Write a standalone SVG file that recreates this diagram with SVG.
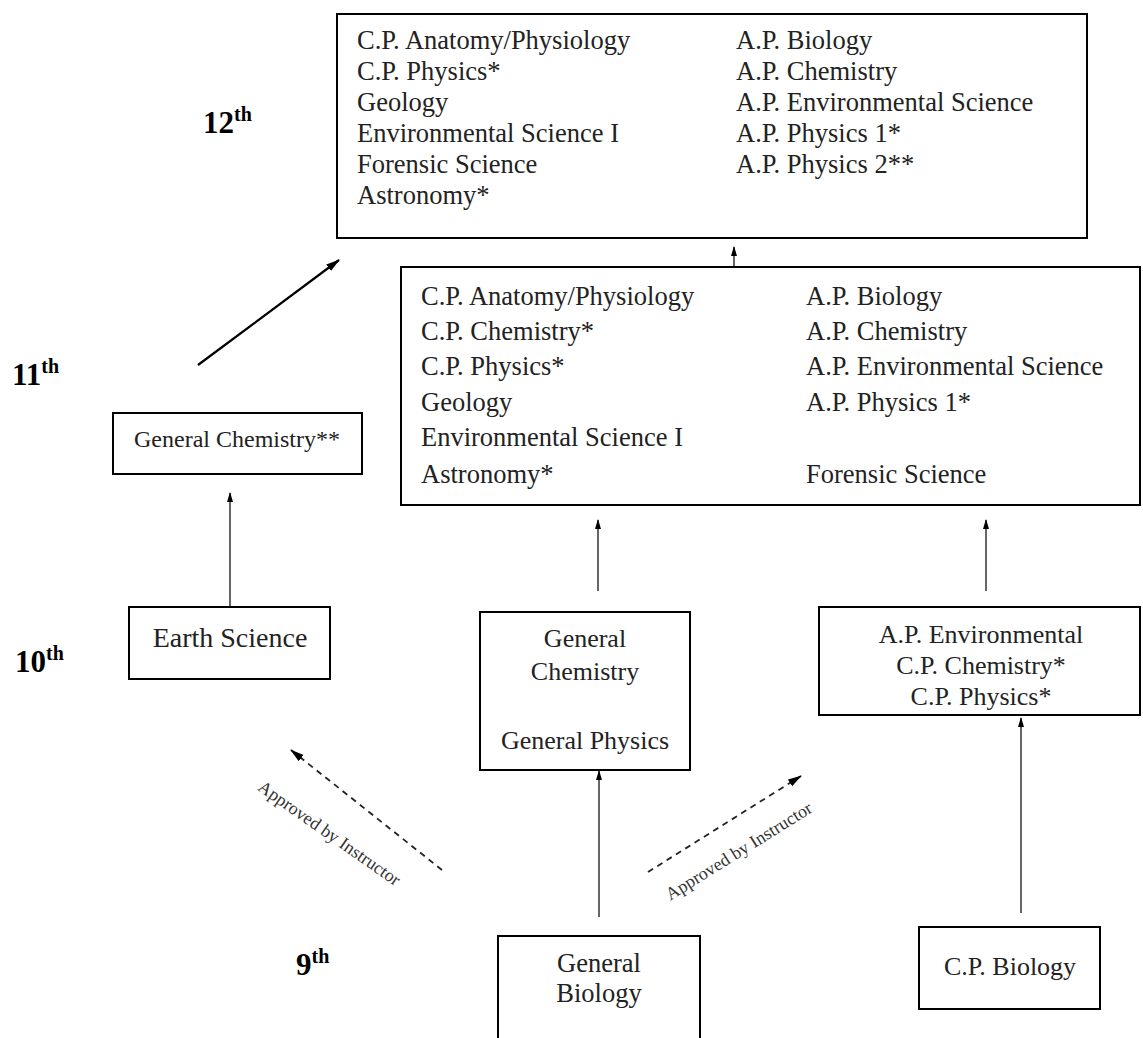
<svg xmlns="http://www.w3.org/2000/svg" width="1143" height="1038" viewBox="0 0 1143 1038">
<style>
.box{fill:#fff;stroke:#000;stroke-width:2}
.t{font-family:"Liberation Serif","Times New Roman",serif;fill:#222}
.b1{font-size:26.5px}
.b2{font-size:26.5px}
.n{font-size:26px;text-anchor:middle}
.g{font-family:"Liberation Serif","Times New Roman",serif;font-weight:bold;font-size:31px;fill:#000}
.sup{font-size:20px}
.c{stroke:#333;stroke-width:1.5;fill:none}
.d{stroke:#222;stroke-width:1.8;fill:none;stroke-dasharray:6 5}
.lab{font-family:"Liberation Serif","Times New Roman",serif;font-size:18px;fill:#333;text-anchor:middle}
</style>
<defs>
<marker id="ah" markerWidth="10" markerHeight="8" refX="9" refY="4" orient="auto" markerUnits="userSpaceOnUse">
<path d="M0,1 L10,4 L0,7 Z" fill="#000"/>
</marker>
<marker id="ah2" markerWidth="14" markerHeight="10" refX="13" refY="5" orient="auto" markerUnits="userSpaceOnUse">
<path d="M0,1 L14,5 L0,9 Z" fill="#000"/>
</marker>
</defs>
<rect width="1143" height="1038" fill="#fff"/>

<g id="grades">
<text class="g" x="203" y="133">12<tspan class="sup" dy="-12">th</tspan></text>
<text class="g" x="12" y="385">11<tspan class="sup" dy="-12">th</tspan></text>
<text class="g" x="15" y="672">10<tspan class="sup" dy="-12">th</tspan></text>
<text class="g" x="296" y="975">9<tspan class="sup" dy="-12">th</tspan></text>
</g>

<g id="connectors">
<line class="c" x1="734" y1="266" x2="734" y2="247" marker-end="url(#ah)"/>
<line x1="198" y1="365" x2="339" y2="260" stroke="#000" stroke-width="2.2" marker-end="url(#ah2)"/>
<line class="c" x1="230" y1="607" x2="230" y2="493" marker-end="url(#ah)"/>
<line class="c" x1="598" y1="591" x2="598" y2="520" marker-end="url(#ah)"/>
<line class="c" x1="986" y1="591" x2="986" y2="520" marker-end="url(#ah)"/>
<line class="c" x1="599" y1="917" x2="599" y2="771" marker-end="url(#ah)"/>
<line class="c" x1="1021" y1="913" x2="1021" y2="718" marker-end="url(#ah)"/>
<line class="d" x1="442" y1="870" x2="291" y2="750" marker-end="url(#ah2)"/>
<line class="d" x1="648" y1="872" x2="801" y2="776" marker-end="url(#ah2)"/>
<text class="lab" transform="translate(326,838) rotate(35)">Approved by Instructor</text>
<text class="lab" transform="translate(742,856) rotate(-32)">Approved by Instructor</text>
</g>

<g id="n12">
<rect class="box" x="337" y="14" width="750" height="224"/>
<text class="t b1" x="357" y="49">C.P. Anatomy/Physiology</text>
<text class="t b1" x="357" y="80">C.P. Physics*</text>
<text class="t b1" x="357" y="111">Geology</text>
<text class="t b1" x="357" y="142">Environmental Science I</text>
<text class="t b1" x="357" y="173">Forensic Science</text>
<text class="t b1" x="357" y="204">Astronomy*</text>
<text class="t b1" x="736" y="49">A.P. Biology</text>
<text class="t b1" x="736" y="80">A.P. Chemistry</text>
<text class="t b1" x="736" y="111">A.P. Environmental Science</text>
<text class="t b1" x="736" y="142">A.P. Physics 1*</text>
<text class="t b1" x="736" y="173">A.P. Physics 2**</text>
</g>

<g id="n11">
<rect class="box" x="401" y="267" width="739" height="238"/>
<text class="t b2" x="421" y="305">C.P. Anatomy/Physiology</text>
<text class="t b2" x="421" y="340">C.P. Chemistry*</text>
<text class="t b2" x="421" y="375">C.P. Physics*</text>
<text class="t b2" x="421" y="411">Geology</text>
<text class="t b2" x="421" y="446">Environmental Science I</text>
<text class="t b2" x="421" y="483">Astronomy*</text>
<text class="t b2" x="806" y="305">A.P. Biology</text>
<text class="t b2" x="806" y="340">A.P. Chemistry</text>
<text class="t b2" x="806" y="375">A.P. Environmental Science</text>
<text class="t b2" x="806" y="411">A.P. Physics 1*</text>
<text class="t b2" x="806" y="483">Forensic Science</text>
</g>

<g id="genchem2">
<rect class="box" x="113" y="413" width="249" height="61"/>
<text class="t" x="237" y="447" font-size="24" text-anchor="middle">General Chemistry**</text>
</g>

<g id="earth">
<rect class="box" x="129" y="607" width="201" height="72"/>
<text class="t" x="230" y="647" font-size="28" text-anchor="middle">Earth Science</text>
</g>

<g id="genchemphys">
<rect class="box" x="480" y="612" width="210" height="158"/>
<text class="t n" x="585" y="647">General</text>
<text class="t n" x="585" y="680">Chemistry</text>
<text class="t n" x="585" y="749">General Physics</text>
</g>

<g id="apenv">
<rect class="box" x="819" y="607" width="321" height="108"/>
<text class="t" x="981" y="643" font-size="26" text-anchor="middle">A.P. Environmental</text>
<text class="t" x="981" y="674" font-size="26" text-anchor="middle">C.P. Chemistry*</text>
<text class="t" x="981" y="705" font-size="26" text-anchor="middle">C.P. Physics*</text>
</g>

<g id="genbio">
<rect class="box" x="498" y="936" width="202" height="114"/>
<text class="t" x="599" y="972" font-size="26.5" text-anchor="middle">General</text>
<text class="t" x="599" y="1002" font-size="26.5" text-anchor="middle">Biology</text>
</g>

<g id="cpbio">
<rect class="box" x="919" y="927" width="181" height="82"/>
<text class="t n" x="1010" y="975">C.P. Biology</text>
</g>
</svg>
